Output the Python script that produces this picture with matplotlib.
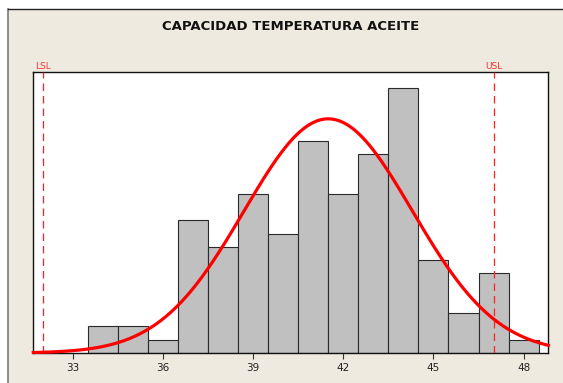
import numpy as np
import matplotlib
matplotlib.use("Agg")
import matplotlib.pyplot as plt
from matplotlib.lines import Line2D

# Data
bin_centers = [34, 35, 36, 37, 38, 39, 40, 41, 42, 43, 44, 45, 46, 47, 48]
counts = [2, 2, 1, 10, 8, 12, 9, 16, 12, 15, 20, 7, 3, 6, 1]
lsl = 32
usl = 47
mean = 41.5
sigma = 2.8
xticks = [33, 36, 39, 42, 45, 48]
title = "CAPACIDAD TEMPERATURA ACEITE"

W, H = 563, 383
fig = plt.figure(figsize=(W / 100, H / 100), dpi=100)
fig.patch.set_facecolor("white")

# beige panel with frame lines
fig.add_artist(matplotlib.patches.Rectangle((8 / W, 0), 1, (H - 9) / H, transform=fig.transFigure,
                                            facecolor="#EEEAE0", edgecolor="none", zorder=0))
fig.add_artist(Line2D([8 / W, 8 / W], [0, (H - 9) / H], transform=fig.transFigure, color="#7a7a7a", lw=1.2))
fig.add_artist(Line2D([8 / W, 1], [(H - 9) / H, (H - 9) / H], transform=fig.transFigure, color="#222222", lw=1.0))

left, right, top, bottom = 33.3, 548.3, 72, 353
ax = fig.add_axes([left / W, (H - bottom) / H, (right - left) / W, (bottom - top) / H])
ax.set_facecolor("white")

binw = 1.0
ax.bar(bin_centers, counts, width=binw, color="#C0C0C0", edgecolor="#2a2a2a", linewidth=0.8, zorder=2)

ax.set_xlim(31.69, 48.82)
ax.set_ylim(0, 21.2)

xs = np.linspace(31.69, 48.82, 400)
n = sum(counts)
ys = n * binw / (sigma * np.sqrt(2 * np.pi)) * np.exp(-0.5 * ((xs - mean) / sigma) ** 2)
ax.plot(xs, ys, color="#FF0000", lw=2.3, zorder=4, clip_on=False)

for v, lab in [(lsl, "LSL"), (usl, "USL")]:
    ax.axvline(v, color="#FF2020", lw=0.9, dashes=(6, 4), zorder=3)
    ax.text(v, 1.005, lab, transform=ax.get_xaxis_transform(), ha="center", va="bottom",
            color="#FF3030", fontsize=6.5)

ax.set_xticks(xticks)
ax.set_xticklabels([str(t) for t in xticks], fontsize=7.5, color="#222222")
ax.set_yticks([])
ax.tick_params(axis="x", length=4, width=0.8, color="#333333", pad=3)
for s in ax.spines.values():
    s.set_color("#111111")
    s.set_linewidth(1.0)

fig.text(290.8 / W, (H - 27) / H, title, ha="center", va="center", fontsize=9.5,
         fontweight="bold", color="#111111")

fig.savefig("out.png", dpi=100, facecolor=fig.get_facecolor())
